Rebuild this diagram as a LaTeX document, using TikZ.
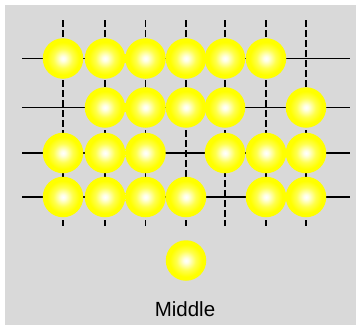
\documentclass[tikz,border=0pt]{standalone}
\usepackage{fontspec}
\setmainfont{Liberation Sans}
\definecolor{bggray}{HTML}{D9D9D9}
\pgfdeclareradialshading{yball}{\pgfpoint{0bp}{0bp}}{color(0bp)=(white); color(3bp)=(yellow!10!white); color(12bp)=(yellow!70!white); color(20bp)=(yellow); color(50bp)=(yellow)}
\begin{document}
\begin{tikzpicture}[x=1pt,y=-1pt,
  ball/.style={circle, minimum size=40.5pt, inner sep=0pt, shade, shading=yball},
  hgrid/.style={line width=1.8pt},
  vgrid/.style={line width=1.8pt, dash pattern=on 7pt off 3pt},
  label/.style={font=\fontsize{20.5}{24}\selectfont, anchor=base, inner sep=0pt}]
\useasboundingbox (0,0) rectangle (357,325);
\fill[bggray] (5,5) rectangle (356,325);
% grid coordinates
\foreach \r/\y in {1/58.5,2/107.5,3/153,4/197}{
  \coordinate (hl\r) at (22,\y);
  \coordinate (hr\r) at (350,\y);
  \draw[hgrid] (hl\r) -- (hr\r);
}
\foreach \c/\x in {1/63,2/105,3/145.5,4/186,5/225,6/266,7/306}{
  \coordinate (vt\c) at (\x,20);
  \coordinate (vb\c) at (\x,226);
  \draw[vgrid] (vt\c) -- (vb\c);
}
% balls
\foreach \c/\x in {1/63,2/105,3/145.5,4/186,5/225,6/266}
  \node[ball] (b1\c) at (\x,58.5) {};
\foreach \c/\x in {2/105,3/145.5,4/186,5/225,7/306}
  \node[ball] (b2\c) at (\x,107.5) {};
\foreach \c/\x in {1/63,2/105,3/145.5,5/225,6/266,7/306}
  \node[ball] (b3\c) at (\x,153) {};
\foreach \c/\x in {1/63,2/105,3/145.5,4/186,6/266,7/306}
  \node[ball] (b4\c) at (\x,197) {};
\node[ball] (mid) at (186,260.5) {};
\node[label] (midtext) at (185,316) {Middle};
\end{tikzpicture}
\end{document}
